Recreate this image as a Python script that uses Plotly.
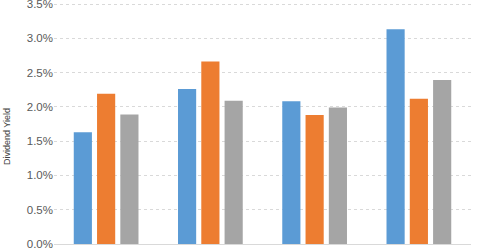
import plotly.graph_objects as go

categories = ["A", "B", "C", "D"]
series_names = ["Series 1", "Series 2", "Series 3"]
blue_vals = [0.0163, 0.0226, 0.0208, 0.0313]
orange_vals = [0.0219, 0.0266, 0.0188, 0.0212]
gray_vals = [0.0189, 0.0209, 0.0199, 0.0239]
colors = ["#5B9BD5", "#ED7D31", "#A5A5A5"]
y_ticks = [0, 0.005, 0.01, 0.015, 0.02, 0.025, 0.03, 0.035]

fig = go.Figure()
for name, vals, c in zip(series_names, [blue_vals, orange_vals, gray_vals], colors):
    fig.add_trace(go.Bar(x=categories, y=vals, name=name, marker=dict(color=c, line=dict(width=0))))

W, H = 480, 251
ml, mr, mt, mb = 54, 9, 2, 7
plot_h = H - mt - mb
y_top = 0.035 * plot_h / 240
fig.update_layout(
    width=W, height=H,
    margin=dict(l=ml, r=mr, t=mt, b=mb, autoexpand=False),
    paper_bgcolor="white", plot_bgcolor="white",
    barmode="group", bargap=0.33, bargroupgap=0.22,
    showlegend=False,
    font=dict(family="Liberation Sans, Arial", size=11, color="#595959"),
    xaxis=dict(showticklabels=False, showgrid=False, zeroline=False, automargin=False,
               showline=True, linecolor="#d9d9d9", linewidth=1, ticks=""),
    yaxis=dict(range=[0, y_top], tickvals=y_ticks, tickformat=".1%", automargin=False,
               ticklabeloverflow="allow",
               showgrid=True, gridcolor="#d9d9d9", griddash="dot", gridwidth=1,
               zeroline=False, showline=False, ticks="", ticklen=0,
               tickfont=dict(size=11.5, color="#595959")),
)
fig.add_annotation(text="Dividend Yield", xref="paper", yref="paper",
                   x=-(ml - 7) / (W - ml - mr), y=(H - mb - 137) / plot_h,
                   xanchor="center", yanchor="middle", textangle=-90, showarrow=False,
                   font=dict(size=9, color="#404040", family="Liberation Sans, Arial"))
fig.write_html("out.html")
